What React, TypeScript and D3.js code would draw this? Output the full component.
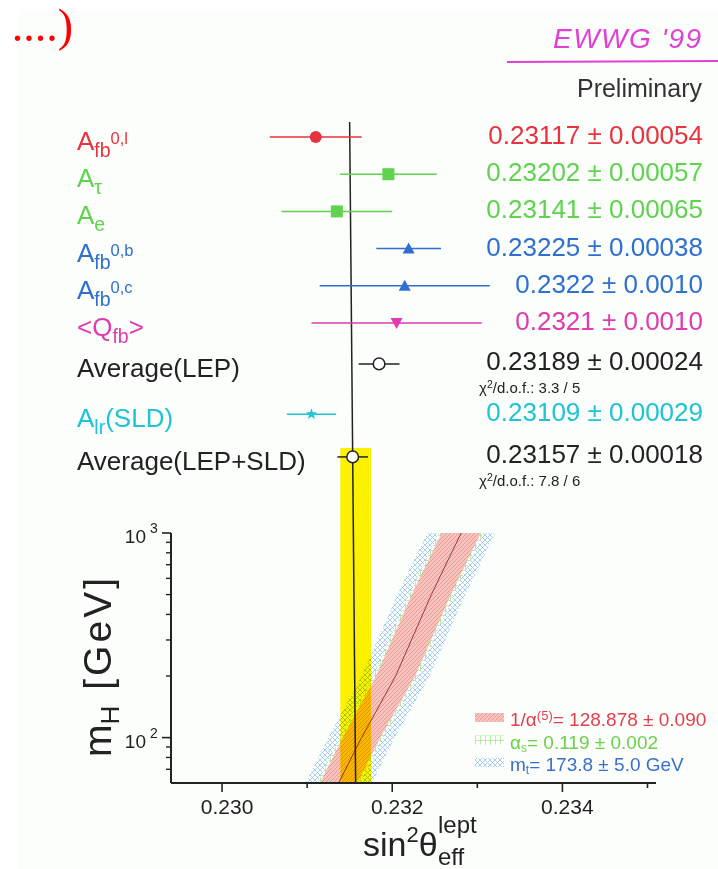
import React from "react";
import * as d3 from "d3";

const W = 718;
const H = 869;

// ---------- Upper panel: measurements ----------
type Seg = { t: string; k?: "sub" | "sup" };
const measLabels: Seg[][] = [
  [{ t: "A" }, { t: "fb", k: "sub" }, { t: "0,l", k: "sup" }],
  [{ t: "A" }, { t: "τ", k: "sub" }],
  [{ t: "A" }, { t: "e", k: "sub" }],
  [{ t: "A" }, { t: "fb", k: "sub" }, { t: "0,b", k: "sup" }],
  [{ t: "A" }, { t: "fb", k: "sub" }, { t: "0,c", k: "sup" }],
  [{ t: "<Q" }, { t: "fb", k: "sub" }, { t: ">" }],
  [{ t: "Average(LEP)" }],
  [{ t: "A" }, { t: "lr", k: "sub" }, { t: "(SLD)" }],
  [{ t: "Average(LEP+SLD)" }],
];
const measValues = [0.23117, 0.23202, 0.23141, 0.23225, 0.2322, 0.2321, 0.23189, 0.23109, 0.23157];
const measErrors = [0.00054, 0.00057, 0.00065, 0.00038, 0.001, 0.001, 0.00024, 0.00029, 0.00018];
const measTexts = [
  "0.23117 ± 0.00054",
  "0.23202 ± 0.00057",
  "0.23141 ± 0.00065",
  "0.23225 ± 0.00038",
  "0.2322 ± 0.0010",
  "0.2321 ± 0.0010",
  "0.23189 ± 0.00024",
  "0.23109 ± 0.00029",
  "0.23157 ± 0.00018",
];
const measChi2 = ["", "", "", "", "", "", "3.3 / 5", "", "7.8 / 6"];
const measMarkers = ["dot", "square", "square", "tri", "tri", "triDown", "open", "star", "open"];
const measColors = ["#e8323e", "#5fd24e", "#5fd24e", "#2f6fd0", "#2f6fd0", "#e03aae", "#222222", "#1ec3d4", "#222222"];
const rowSlots = [0, 1, 2, 3, 4, 5, 6.1, 7.45, 8.6];

// ---------- Lower panel: SM prediction vs mH ----------
const mHPoints = [60, 100, 200, 500, 1000];
const smCentral = [0.23137, 0.23164, 0.23204, 0.23246, 0.23281];
const halfAlpha = [0.00022, 0.00022, 0.00023, 0.00023, 0.00023];
const halfAlphaS = [0.00025, 0.00025, 0.00026, 0.00026, 0.00026];
const halfMt = [0.00039, 0.00039, 0.0004, 0.0004, 0.0004];
const xMajorTicks = [0.23, 0.232, 0.234];
const xMajorLabels = ["0.230", "0.232", "0.234"];
const xMinorTicks = [0.231, 0.233, 0.235];
const yMajorTicks = [100, 1000];
const yMajorExp = ["2", "3"];
const yMinorTicks = [70, 80, 90, 200, 300, 400, 500, 600, 700, 800, 900];
const legendTexts = [
  { main: "1/α", sup: "(5)", rest: "= 128.878 ± 0.090" },
  { main: "α", sub: "s", rest: "= 0.119 ± 0.002" },
  { main: "m", sub: "t", rest: "= 173.8 ± 5.0 GeV" },
];
const legendColors = ["#e0404e", "#6ccf4a", "#3a6fcc"];
const legendPatterns = ["pinkHatch", "greenHatch", "blueHatch"];

const FONT = "'Liberation Sans', Arial, Helvetica, sans-serif";

export default function App() {
  const x = d3.scaleLinear().domain([0.2294, 0.2351]).range([171, 656]);
  const y = d3.scaleLog().domain([60, 1000]).range([783, 533]);
  const rowY = d3.scaleLinear().domain([0, 1]).range([137, 174.2]);
  const axisY = y(60);
  const lineTopY = 122;
  // scanned page is slightly rotated: small shift growing upwards
  const tilt = (yy: number) => (-6 * (axisY - yy)) / (axisY - lineTopY);
  const xu = (v: number, yy: number) => x(v) + tilt(yy);

  const bandData = mHPoints.map((m, i) => ({ m, c: smCentral[i], a: halfAlpha[i], s: halfAlphaS[i], t: halfMt[i] }));
  const area = (hw: (d: any) => number) =>
    d3
      .area<any>()
      .y((d) => y(d.m))
      .x0((d) => x(d.c - hw(d)))
      .x1((d) => x(d.c + hw(d)))(bandData) as string;
  const centralLine = d3
    .line<any>()
    .x((d) => x(d.c))
    .y((d) => y(d.m))(bandData) as string;

  const avgIdx = 8;
  const avgV = measValues[avgIdx];
  const avgE = measErrors[avgIdx];
  const yellowTop = rowY(rowSlots[avgIdx]) - 9;

  const renderLabel = (segs: Seg[], color: string, yy: number, key: number) => {
    let cur = 0;
    return (
      <text key={key} x={77} y={yy} fill={color} fontSize={26} fontFamily={FONT}>
        {segs.map((s, j) => {
          const target = s.k === "sub" ? 7 : s.k === "sup" ? -6 : 0;
          const dy = target - cur;
          cur = target;
          const fs = s.k === "sub" ? 19.5 : s.k === "sup" ? 16.5 : 26;
          return (
            <tspan key={j} dy={dy} fontSize={fs}>
              {s.t}
            </tspan>
          );
        })}
      </text>
    );
  };

  const renderMarker = (kind: string, cx: number, cy: number, color: string, key: string) => {
    switch (kind) {
      case "dot":
        return <circle key={key} cx={cx} cy={cy} r={6} fill={color} />;
      case "square":
        return <rect key={key} x={cx - 6} y={cy - 6} width={12} height={12} fill={color} />;
      case "tri":
        return <path key={key} d={`M${cx},${cy - 6}L${cx + 6},${cy + 5}L${cx - 6},${cy + 5}Z`} fill={color} />;
      case "triDown":
        return <path key={key} d={`M${cx},${cy + 6}L${cx + 6},${cy - 5}L${cx - 6},${cy - 5}Z`} fill={color} />;
      case "open":
        return <circle key={key} cx={cx} cy={cy} r={5.8} fill="#fff" stroke={color} strokeWidth={1.5} />;
      case "star":
        return (
          <path
            key={key}
            transform={`translate(${cx},${cy})`}
            d={d3.symbol().type(d3.symbolStar).size(40)() as string}
            fill={color}
          />
        );
    }
    return null;
  };

  return (
    <svg width={W} height={H} style={{ display: "block", position: "absolute", left: 0, top: 0 }}>
      <defs>
        <pattern id="pinkHatch" width={4} height={4} patternUnits="userSpaceOnUse">
          <rect width={4} height={4} fill="#f6c3bd" />
          <path d="M0,4L4,0M-1,1L1,-1M3,5L5,3" stroke="#e48a8a" strokeWidth={0.7} />
        </pattern>
        <pattern id="greenHatch" width={5} height={5} patternUnits="userSpaceOnUse">
          <rect width={5} height={5} fill="#ffffff" />
          <path d="M0,0.5H5M0.5,0V5" stroke="#a6e68c" strokeWidth={0.8} />
        </pattern>
        <pattern id="blueHatch" width={5} height={5} patternUnits="userSpaceOnUse">
          <rect width={5} height={5} fill="#ffffff" />
          <path d="M0,5L5,0M0,0L5,5M-1,1L1,-1M4,6L6,4M-1,4L1,6M4,-1L6,1" stroke="#93c3ea" strokeWidth={0.8} />
        </pattern>
        <clipPath id="plotClip">
          <rect x={x(0.2294)} y={y(1000)} width={x(0.2351) - x(0.2294)} height={axisY - y(1000)} />
        </clipPath>
      </defs>

      <rect x={0} y={0} width={W} height={H} fill="#ffffff" />
      <rect x={18} y={10} width={W - 18} height={H - 10} fill="#fbfefb" />

      {/* top-left red fragment */}
      <text x={73} y={41} textAnchor="end" fill="#ff0000" fontSize={46} fontFamily="'Liberation Serif', 'Times New Roman', serif">
        ....)
      </text>

      {/* EWWG '99 handwriting */}
      <text x={553} y={48} fill="#e040d6" fontSize={28} fontStyle="italic" letterSpacing={1.5} fontFamily={FONT}>
        EWWG '99
      </text>
      <line x1={507} x2={718} y1={62} y2={61} stroke="#e040d6" strokeWidth={2} />
      <text x={702} y={97} textAnchor="end" fill="#333" fontSize={25} fontFamily={FONT}>
        Preliminary
      </text>

      {/* SM bands */}
      <g clipPath="url(#plotClip)">
        <path d={area((d) => d.t)} fill="url(#blueHatch)" />
        <path d={area((d) => d.s)} fill="url(#greenHatch)" />
        <path d={area((d) => d.a)} fill="url(#pinkHatch)" />
        <path d={centralLine} fill="none" stroke="#9c3a3a" strokeWidth={1} />
      </g>

      {/* yellow average band */}
      <rect
        x={x(avgV - avgE)}
        y={yellowTop}
        width={x(avgV + avgE) - x(avgV - avgE)}
        height={axisY - yellowTop}
        fill="#fff200"
        style={{ mixBlendMode: "multiply" }}
      />

      {/* vertical average line */}
      <line x1={xu(avgV, lineTopY)} y1={lineTopY} x2={x(avgV)} y2={axisY} stroke="#222" strokeWidth={1.5} />

      {/* measurements */}
      {measValues.map((v, i) => {
        const cy = rowY(rowSlots[i]);
        const col = measColors[i];
        return (
          <g key={i}>
            <line x1={xu(v - measErrors[i], cy)} x2={xu(v + measErrors[i], cy)} y1={cy} y2={cy} stroke={col} strokeWidth={1.5} />
            {renderMarker(measMarkers[i], xu(v, cy), cy, col, "m" + i)}
            {renderLabel(measLabels[i], col, cy + 13, i)}
            <text x={703} y={cy + (measChi2[i] ? 6 : 7)} textAnchor="end" fill={col} fontSize={26} fontFamily={FONT}>
              {measTexts[i]}
            </text>
            {measChi2[i] && (
              <text x={479} y={cy + 29} fill="#222" fontSize={15} fontFamily={FONT}>
                χ<tspan dy={-5} fontSize={10.5}>2</tspan>
                <tspan dy={5}>/d.o.f.: {measChi2[i]}</tspan>
              </text>
            )}
          </g>
        );
      })}

      {/* axes */}
      <line x1={x(0.2294)} x2={x(0.2351)} y1={axisY} y2={axisY} stroke="#222" strokeWidth={2} />
      <line x1={x(0.2294)} x2={x(0.2294)} y1={y(1000)} y2={axisY} stroke="#222" strokeWidth={2} />
      {xMajorTicks.map((t, i) => (
        <g key={"xt" + i}>
          <line x1={x(t)} x2={x(t)} y1={axisY} y2={axisY + 9} stroke="#222" strokeWidth={1.6} />
          <text x={x(t) + 5} y={814} textAnchor="middle" fill="#222" fontSize={21} fontFamily={FONT}>
            {xMajorLabels[i]}
          </text>
        </g>
      ))}
      {xMinorTicks.map((t, i) => (
        <line key={"xm" + i} x1={x(t)} x2={x(t)} y1={axisY} y2={axisY + 5} stroke="#222" strokeWidth={1.6} />
      ))}
      {yMajorTicks.map((t, i) => (
        <g key={"yt" + i}>
          <line x1={x(0.2294) - 9} x2={x(0.2294)} y1={y(t)} y2={y(t)} stroke="#222" strokeWidth={1.6} />
          <text x={146} y={y(t) + 10} textAnchor="end" fill="#222" fontSize={19} fontFamily={FONT}>
            10
          </text>
          <text x={150} y={y(t)} fill="#222" fontSize={14} fontFamily={FONT}>
            {yMajorExp[i]}
          </text>
        </g>
      ))}
      {yMinorTicks.map((t, i) => (
        <line key={"ym" + i} x1={x(0.2294) - 5} x2={x(0.2294)} y1={y(t)} y2={y(t)} stroke="#222" strokeWidth={1.4} />
      ))}

      {/* axis titles */}
      <text transform="translate(111,757) rotate(-90)" fill="#222" fontSize={39} fontFamily={FONT}>
        m<tspan dy={8} fontSize={26}>H</tspan>
        <tspan dy={-8} dx={16} letterSpacing={3}>[GeV]</tspan>
      </text>
      <text x={363} y={856} fill="#222" fontSize={34} fontFamily={FONT}>
        sin<tspan dy={-14} fontSize={22}>2</tspan>
        <tspan dy={14}>θ</tspan>
      </text>
      <text x={438} y={833} fill="#222" fontSize={24} fontFamily={FONT}>
        lept
      </text>
      <text x={438} y={865} fill="#222" fontSize={24} fontFamily={FONT}>
        eff
      </text>

      {/* legend */}
      {legendTexts.map((l, i) => {
        const by = 726 + i * 22.5;
        return (
          <g key={"lg" + i}>
            <rect x={475} y={by - 13} width={29} height={9} fill={`url(#${legendPatterns[i]})`} />
            <text x={510} y={by} fill={legendColors[i]} fontSize={19} fontFamily={FONT}>
              {l.main}
              {l.sup && (
                <tspan dy={-6} fontSize={13}>
                  {l.sup}
                </tspan>
              )}
              {l.sub && (
                <tspan dy={3} fontSize={12}>
                  {l.sub}
                </tspan>
              )}
              <tspan dy={l.sup ? 6 : -3}>{l.rest}</tspan>
            </text>
          </g>
        );
      })}
    </svg>
  );
}
